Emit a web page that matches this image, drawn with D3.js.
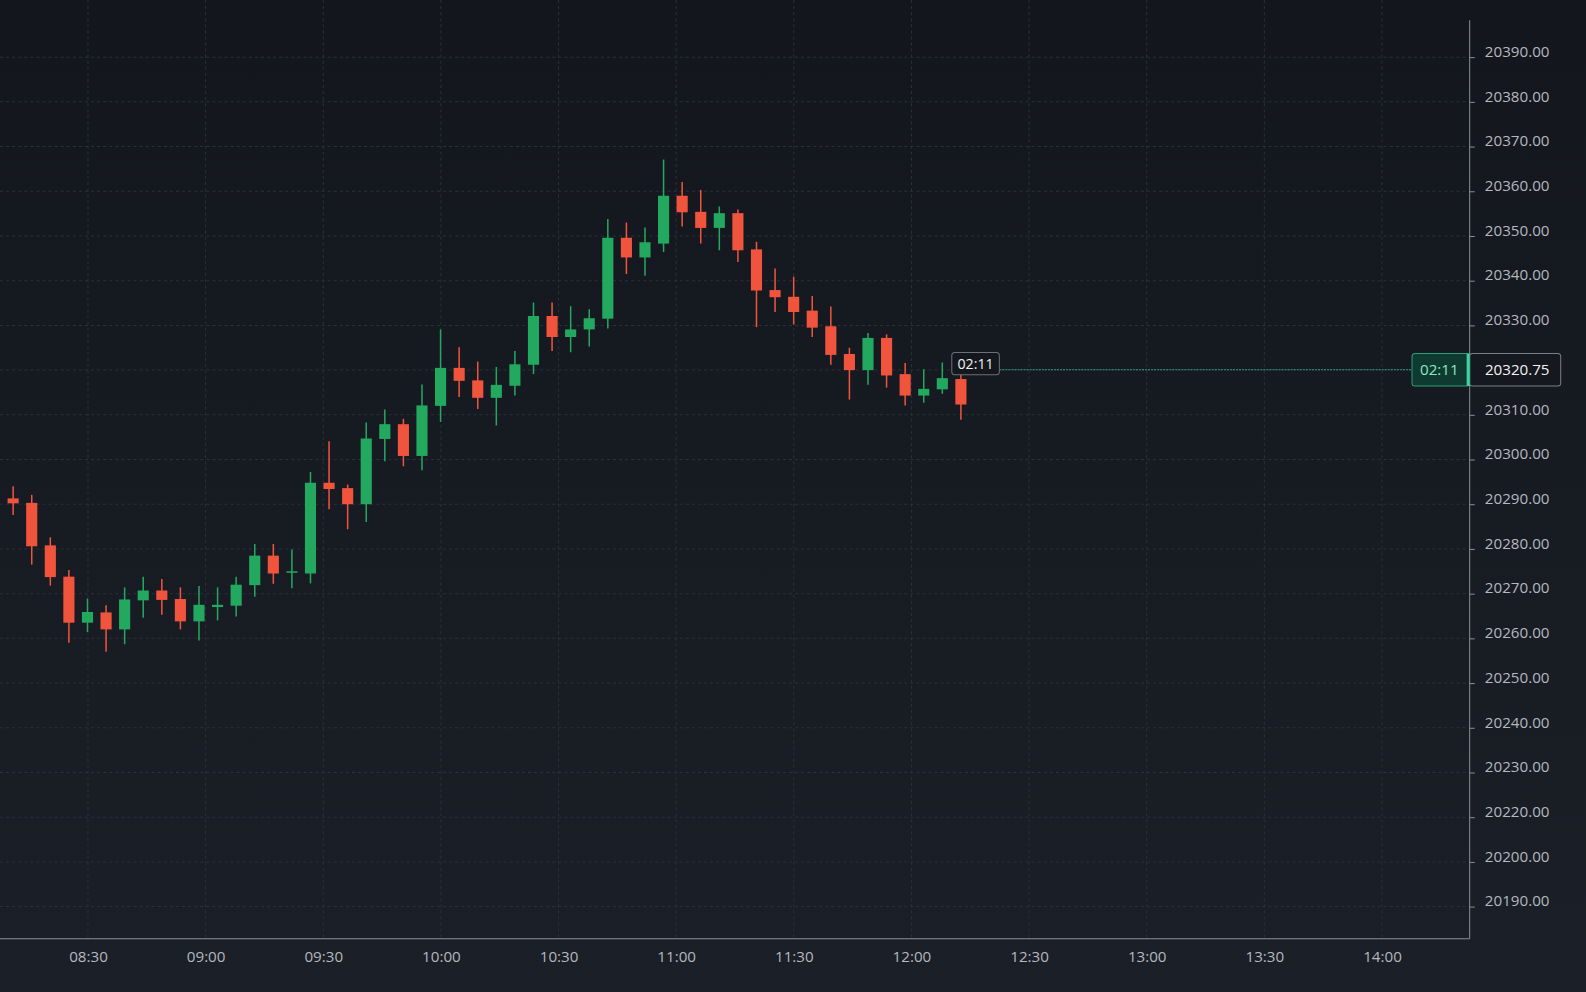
<!DOCTYPE html>
<html><head><meta charset="utf-8">
<script src="https://cdn.jsdelivr.net/npm/d3@7"></script>
<style>html,body{margin:0;padding:0;background:#161a21;overflow:hidden}svg{display:block}</style>
</head><body><svg id="c" width="1586" height="992"></svg>
<script>
const opens  = [20291.3,20290.3,20280.8,20273.8,20263.5,20265.8,20262.0,20268.5,20270.7,20268.8,20263.8,20267.0,20267.3,20271.9,20278.5,20274.7,20274.5,20294.8,20293.6,20290.0,20304.6,20307.9,20300.8,20312.0,20320.5,20317.7,20313.8,20316.5,20321.2,20332.1,20327.4,20329.1,20331.5,20349.6,20345.2,20348.3,20359.0,20355.4,20351.8,20355.1,20347.0,20337.9,20336.4,20333.3,20329.8,20323.6,20320.0,20327.2,20319.1,20314.3,20315.7,20318.0];
const highs  = [20294.0,20292.1,20282.6,20275.3,20268.9,20267.4,20271.4,20273.8,20273.3,20271.4,20271.7,20271.4,20273.8,20281.1,20281.1,20279.9,20297.2,20304.1,20294.4,20308.3,20311.2,20309.1,20316.8,20329.1,20325.1,20321.9,20320.7,20324.3,20335.1,20335.1,20334.3,20333.6,20353.8,20353.0,20351.9,20367.1,20362.1,20360.3,20356.6,20355.9,20348.7,20342.7,20340.9,20336.6,20334.2,20325.0,20328.3,20328.0,20321.6,20320.2,20321.7,20319.0];
const lows   = [20287.6,20276.5,20271.8,20259.0,20261.4,20257.0,20258.7,20264.6,20265.3,20262.0,20259.5,20264.0,20264.9,20269.3,20272.2,20271.2,20272.3,20288.9,20284.4,20286.0,20299.6,20298.5,20297.6,20308.4,20314.0,20311.3,20307.6,20314.3,20319.1,20324.3,20324.0,20325.3,20329.3,20341.5,20341.1,20346.4,20352.1,20348.3,20346.8,20344.2,20329.6,20333.0,20330.2,20327.4,20321.2,20313.4,20316.7,20316.1,20312.1,20312.7,20314.7,20308.9];
const closes = [20290.2,20280.6,20273.7,20263.5,20265.9,20262.0,20268.7,20270.7,20268.6,20263.8,20267.5,20267.5,20272.0,20278.5,20274.5,20275.0,20294.8,20293.4,20290.0,20304.7,20307.9,20300.8,20312.1,20320.5,20317.6,20313.8,20316.7,20321.3,20332.1,20327.4,20329.1,20331.6,20349.6,20345.2,20348.6,20359.0,20355.3,20351.8,20355.1,20346.8,20337.8,20336.3,20333.0,20329.5,20323.4,20320.0,20327.2,20318.8,20314.3,20315.8,20318.2,20312.3];
const gridValues = [20390,20380,20370,20360,20350,20340,20330,20320,20310,20300,20290,20280,20270,20260,20250,20240,20230,20220,20210,20200];
const yTickValues = [20390,20380,20370,20360,20350,20340,20330,20310,20300,20290,20280,20270,20260,20250,20240,20230,20220,20210,20200];
const yTickLabels = ["20390.00","20380.00","20370.00","20360.00","20350.00","20340.00","20330.00","20310.00","20300.00","20290.00","20280.00","20270.00","20260.00","20250.00","20240.00","20230.00","20220.00","20200.00","20190.00"];
const xTickLabels = ["08:30","09:00","09:30","10:00","10:30","11:00","11:30","12:00","12:30","13:00","13:30","14:00"];
const lastPrice = 20320.75;
const countdown = "02:11";

const svg = d3.select("#c");
const W = 1586, H = 992, plotR = 1453, plotB = 928;
const defs = svg.append("defs");
const g = defs.append("linearGradient").attr("id","bg").attr("x1",0).attr("y1",0).attr("x2",0).attr("y2",1);
g.append("stop").attr("offset","0%").attr("stop-color","#13161d");
g.append("stop").attr("offset","100%").attr("stop-color","#1b1f27");
svg.append("rect").attr("width",W).attr("height",H).attr("fill","url(#bg)");
const root = svg.append("g").attr("transform",`scale(${1586/1568})`);

const y = d3.scaleLinear().domain([20390,20200]).range([56.5, 56.5+190*4.42]);
const toMin = s => { const [h,m]=s.split(":").map(Number); return h*60+m; };
const x = d3.scaleLinear().domain([510 - 87/116.3*30, 510 + (plotR-87)/116.3*30]).range([0, plotR]);
const xi = d3.scaleLinear().domain([0, opens.length-1]).range([13, 950]);

const grid = root.append("g").attr("stroke","#2b3039").attr("stroke-dasharray","3,3").attr("stroke-width",1);
gridValues.forEach(v => grid.append("line").attr("x1",0).attr("x2",plotR).attr("y1",y(v)).attr("y2",y(v)));
xTickLabels.forEach(t => grid.append("line").attr("x1",x(toMin(t))).attr("x2",x(toMin(t))).attr("y1",0).attr("y2",plotB));

const yAxis = d3.axisRight(y).tickValues(yTickValues).tickSize(5).tickFormat((d,i)=>yTickLabels[i]);
const ya = root.append("g").attr("transform",`translate(${plotR},0)`).call(yAxis);
ya.select(".domain").remove();
ya.selectAll("line").attr("stroke","#8a8f98");
ya.selectAll("text").attr("fill","#b4b8bf").attr("font-family","Open Sans").attr("font-size",15).attr("x",15).attr("dy","-0.05em");
root.append("line").attr("x1",plotR).attr("x2",plotR).attr("y1",20).attr("y2",plotB).attr("stroke","#8a8f98");

const xAxis = d3.axisBottom(x).tickValues(xTickLabels.map(toMin)).tickSize(0).tickFormat((d,i)=>xTickLabels[i]);
const xa = root.append("g").attr("transform",`translate(0,${plotB})`).call(xAxis);
xa.select(".domain").remove();
xa.selectAll("text").attr("fill","#b4b8bf").attr("font-family","Open Sans").attr("font-size",15).attr("dy","1.35em");
root.append("line").attr("x1",0).attr("x2",plotR).attr("y1",plotB).attr("y2",plotB).attr("stroke","#8a8f98");

const UP="#23a95f", DN="#f1543d";
const data = opens.map((o,i)=>({i,o,h:highs[i],l:lows[i],c:closes[i]}));
const cg = root.append("g").selectAll("g").data(data).join("g");
cg.append("line").attr("x1",d=>xi(d.i)).attr("x2",d=>xi(d.i)).attr("y1",d=>y(d.h)).attr("y2",d=>y(d.l))
  .attr("stroke",d=>d.c>=d.o?UP:DN).attr("stroke-width",1.5);
cg.append("rect").attr("x",d=>xi(d.i)-5.5).attr("width",11)
  .attr("y",d=>y(Math.max(d.o,d.c))).attr("height",d=>Math.max(1.5,Math.abs(y(d.o)-y(d.c))))
  .attr("fill",d=>d.c>=d.o?UP:DN);

const py = y(lastPrice)+3;
const lastX = xi(opens.length-1);
root.append("line").attr("x1",lastX+38).attr("x2",1396).attr("y1",py).attr("y2",py).attr("stroke","#2aa37a").attr("stroke-dasharray","2,1").attr("stroke-width",1);
root.append("rect").attr("x",lastX-9).attr("y",py-17).attr("width",47).attr("height",22).attr("rx",3).attr("fill","#14171d").attr("stroke","#6c7079");
root.append("text").attr("x",lastX+14.5).attr("y",py-1).attr("text-anchor","middle").attr("fill","#f0f0f0").attr("font-family","Open Sans").attr("font-size",14).text(countdown);
root.append("rect").attr("x",1453).attr("y",py-16).attr("width",90).attr("height",32).attr("rx",3).attr("fill","#15181e").attr("stroke","#7a7e86");
root.append("rect").attr("x",1396).attr("y",py-16).attr("width",57).attr("height",32).attr("rx",3).attr("fill","#0e3a30").attr("stroke","#2f9c7c");
root.append("rect").attr("x",1450).attr("y",py-16).attr("width",3).attr("height",32).attr("fill","#3fd19f");
root.append("text").attr("x",1423).attr("y",py+5.5).attr("text-anchor","middle").attr("fill","#8ee6c6").attr("font-family","Open Sans").attr("font-size",15).text(countdown);
root.append("text").attr("x",1500).attr("y",py+5.5).attr("text-anchor","middle").attr("fill","#f2f2f2").attr("font-family","Open Sans").attr("font-size",15).text(lastPrice.toFixed(2));
</script></body></html>
